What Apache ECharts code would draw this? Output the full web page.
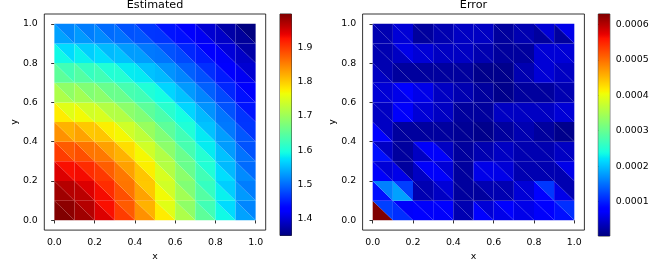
<!DOCTYPE html>
<html><head><meta charset="utf-8">
<script src="https://cdn.jsdelivr.net/npm/echarts@6/dist/echarts.min.js"></script>
<style>html,body{margin:0;padding:0;background:#fff}#c{width:664px;height:266px}</style>
</head><body><div id="c"></div>
<script>
// mesh nodes
const xNodes = [0, 0.1, 0.2, 0.3, 0.4, 0.5, 0.6, 0.7, 0.8, 0.9, 1.0];
const yNodes = [0, 0.1, 0.2, 0.3, 0.4, 0.5, 0.6, 0.7, 0.8, 0.9, 1.0];
// rows: y cell index 0 (bottom) .. 9 (top); columns: x cell index 0..9
// lower-left triangle of each cell
const estLower = [
  [1.998, 1.981, 1.947, 1.899, 1.841, 1.778, 1.713, 1.650, 1.590, 1.534],
  [1.981, 1.966, 1.933, 1.886, 1.829, 1.768, 1.705, 1.643, 1.584, 1.529],
  [1.947, 1.933, 1.902, 1.858, 1.805, 1.747, 1.687, 1.628, 1.572, 1.519],
  [1.899, 1.886, 1.858, 1.818, 1.770, 1.717, 1.661, 1.606, 1.554, 1.504],
  [1.841, 1.829, 1.805, 1.770, 1.727, 1.679, 1.629, 1.580, 1.531, 1.486],
  [1.778, 1.768, 1.747, 1.717, 1.679, 1.637, 1.593, 1.549, 1.505, 1.464],
  [1.713, 1.705, 1.687, 1.661, 1.629, 1.593, 1.555, 1.516, 1.477, 1.440],
  [1.650, 1.643, 1.628, 1.606, 1.580, 1.549, 1.516, 1.482, 1.448, 1.415],
  [1.590, 1.584, 1.572, 1.554, 1.531, 1.505, 1.477, 1.448, 1.419, 1.390],
  [1.534, 1.529, 1.519, 1.504, 1.486, 1.464, 1.440, 1.415, 1.390, 1.365]
];
// upper-right triangle of each cell
const estUpper = [
  [1.991, 1.969, 1.930, 1.878, 1.818, 1.754, 1.690, 1.628, 1.570, 1.516],
  [1.969, 1.947, 1.910, 1.860, 1.803, 1.741, 1.679, 1.619, 1.562, 1.510],
  [1.930, 1.910, 1.876, 1.830, 1.776, 1.718, 1.660, 1.603, 1.549, 1.499],
  [1.878, 1.860, 1.830, 1.788, 1.740, 1.687, 1.633, 1.581, 1.530, 1.483],
  [1.818, 1.803, 1.776, 1.740, 1.697, 1.650, 1.602, 1.554, 1.508, 1.465],
  [1.754, 1.741, 1.718, 1.687, 1.650, 1.609, 1.566, 1.524, 1.483, 1.443],
  [1.690, 1.679, 1.660, 1.633, 1.602, 1.566, 1.529, 1.492, 1.455, 1.420],
  [1.628, 1.619, 1.603, 1.581, 1.554, 1.524, 1.492, 1.460, 1.428, 1.396],
  [1.570, 1.562, 1.549, 1.530, 1.508, 1.483, 1.455, 1.428, 1.400, 1.372],
  [1.516, 1.510, 1.499, 1.483, 1.465, 1.443, 1.420, 1.396, 1.372, 1.349]
];
const errLower = [
  [0.000629, 0.000110, 0.000080, 0.000070, 0.000030, 0.000080, 0.000060, 0.000060, 0.000070, 0.000090],
  [0.000090, 0.000180, 0.000030, 0.000040, 0.000020, 0.000020, 0.000030, 0.000050, 0.000080, 0.000060],
  [0.000070, 0.000060, 0.000040, 0.000070, 0.000020, 0.000060, 0.000060, 0.000030, 0.000030, 0.000030],
  [0.000090, 0.000020, 0.000040, 0.000070, 0.000020, 0.000030, 0.000040, 0.000030, 0.000030, 0.000040],
  [0.000080, 0.000020, 0.000020, 0.000020, 0.000015, 0.000010, 0.000020, 0.000030, 0.000020, 0.000010],
  [0.000040, 0.000070, 0.000050, 0.000040, 0.000020, 0.000020, 0.000040, 0.000040, 0.000040, 0.000050],
  [0.000050, 0.000060, 0.000060, 0.000040, 0.000030, 0.000020, 0.000010, 0.000020, 0.000020, 0.000030],
  [0.000040, 0.000020, 0.000020, 0.000020, 0.000020, 0.000010, 0.000010, 0.000030, 0.000050, 0.000040],
  [0.000030, 0.000040, 0.000050, 0.000040, 0.000040, 0.000030, 0.000020, 0.000020, 0.000050, 0.000050],
  [0.000030, 0.000050, 0.000020, 0.000030, 0.000040, 0.000040, 0.000020, 0.000030, 0.000020, 0.000020]
];
const errUpper = [
  [0.000120, 0.000070, 0.000070, 0.000080, 0.000030, 0.000050, 0.000080, 0.000060, 0.000080, 0.000110],
  [0.000160, 0.000120, 0.000030, 0.000050, 0.000020, 0.000030, 0.000030, 0.000050, 0.000115, 0.000030],
  [0.000050, 0.000020, 0.000070, 0.000050, 0.000020, 0.000060, 0.000050, 0.000030, 0.000030, 0.000060],
  [0.000040, 0.000020, 0.000070, 0.000040, 0.000020, 0.000030, 0.000040, 0.000030, 0.000030, 0.000040],
  [0.000040, 0.000020, 0.000020, 0.000020, 0.000015, 0.000010, 0.000020, 0.000030, 0.000020, 0.000010],
  [0.000040, 0.000070, 0.000050, 0.000040, 0.000020, 0.000020, 0.000040, 0.000040, 0.000040, 0.000050],
  [0.000050, 0.000080, 0.000060, 0.000040, 0.000030, 0.000020, 0.000010, 0.000020, 0.000020, 0.000030],
  [0.000030, 0.000020, 0.000020, 0.000020, 0.000020, 0.000010, 0.000010, 0.000030, 0.000050, 0.000040],
  [0.000030, 0.000060, 0.000050, 0.000040, 0.000040, 0.000030, 0.000020, 0.000020, 0.000050, 0.000050],
  [0.000030, 0.000050, 0.000020, 0.000030, 0.000040, 0.000040, 0.000020, 0.000030, 0.000050, 0.000060]
];
const axisTicks = [0, 0.2, 0.4, 0.6, 0.8, 1.0];
const estBarTicks = [1.4, 1.5, 1.6, 1.7, 1.8, 1.9];
const errBarTicks = [0.0001, 0.0002, 0.0003, 0.0004, 0.0005, 0.0006];
const estRange = [1.3496, 1.9988];
const errRange = [0.0000033, 0.000629];
const titles = ['Estimated', 'Error'];

// matplotlib 'jet'
const JET = {
  r: [[0, 0], [0.35, 0], [0.66, 1], [0.89, 1], [1, 0.5]],
  g: [[0, 0], [0.125, 0], [0.375, 1], [0.64, 1], [0.91, 0], [1, 0]],
  b: [[0, 0.5], [0.11, 1], [0.34, 1], [0.65, 0], [1, 0]]
};
function seg(pts, t) {
  for (let k = 1; k < pts.length; k++) {
    if (t <= pts[k][0]) {
      const a = pts[k - 1], b = pts[k];
      return a[1] + (b[1] - a[1]) * (t - a[0]) / (b[0] - a[0]);
    }
  }
  return pts[pts.length - 1][1];
}
function jet(t) {
  t = Math.max(0, Math.min(1, t));
  const c = [seg(JET.r, t), seg(JET.g, t), seg(JET.b, t)].map(v => Math.round(v * 255));
  return 'rgb(' + c.join(',') + ')';
}
function jetStops() {
  const s = [];
  for (let k = 0; k <= 100; k++) s.push({offset: k / 100, color: jet(k / 100)});
  return s;
}

function triData(lower, upper) {
  const d = [];
  for (let j = 0; j < lower.length; j++)
    for (let i = 0; i < lower[j].length; i++) {
      d.push([i, j, 0, lower[j][i]]);
      d.push([i, j, 1, upper[j][i]]);
    }
  return d;
}
function triRender(range) {
  return function (params, api) {
    const i = api.value(0), j = api.value(1), k = api.value(2), v = api.value(3);
    const pts = k === 0
      ? [[xNodes[i], yNodes[j]], [xNodes[i + 1], yNodes[j]], [xNodes[i], yNodes[j + 1]]]
      : [[xNodes[i + 1], yNodes[j]], [xNodes[i + 1], yNodes[j + 1]], [xNodes[i], yNodes[j + 1]]];
    return {
      type: 'polygon',
      shape: {points: pts.map(p => api.coord(p))},
      style: {fill: jet((v - range[0]) / (range[1] - range[0]))}
    };
  };
}
function barRender(range) {
  return function (params, api) {
    const p0 = api.coord([0, range[1]]);
    const p1 = api.coord([1, range[0]]);
    return {
      type: 'rect',
      shape: {x: p0[0], y: p0[1], width: p1[0] - p0[0], height: p1[1] - p0[1]},
      style: {fill: new echarts.graphic.LinearGradient(0, 1, 0, 0, jetStops())}
    };
  };
}

const FONT = 'DejaVu Sans';
const TICK_FS = 9.4;
const frame = {show: true, borderColor: '#000', borderWidth: 0.8, backgroundColor: 'transparent'};
const grids = [
  Object.assign({left: 44.3, top: 14, width: 221.4, height: 221.3}, frame),
  Object.assign({left: 280, top: 14, width: 11.5, height: 221.5}, frame),
  Object.assign({left: 362.6, top: 14, width: 221.8, height: 221.3}, frame),
  Object.assign({left: 598.3, top: 14, width: 11.5, height: 222}, frame)
];
function mainX(gi) {
  return {
    type: 'value', gridIndex: gi, min: -0.05, max: 1.05,
    name: 'x', nameLocation: 'middle', nameGap: 19,
    nameTextStyle: {fontFamily: FONT, fontSize: TICK_FS, color: '#000'},
    axisLine: {show: false}, splitLine: {show: false},
    axisTick: {show: true, length: 3.2, lineStyle: {color: '#000', width: 0.8}, customValues: axisTicks},
    axisLabel: {show: true, margin: 8, fontFamily: FONT, fontSize: TICK_FS, color: '#000',
      customValues: axisTicks, formatter: v => v.toFixed(1)}
  };
}
function mainY(gi) {
  return {
    type: 'value', gridIndex: gi, min: -0.05, max: 1.05,
    name: 'y', nameLocation: 'middle', nameGap: 24,
    nameTextStyle: {fontFamily: FONT, fontSize: TICK_FS, color: '#000'},
    axisLine: {show: false}, splitLine: {show: false},
    axisTick: {show: true, length: 3.2, lineStyle: {color: '#000', width: 0.8}, customValues: axisTicks},
    axisLabel: {show: true, margin: 6.5, fontFamily: FONT, fontSize: TICK_FS, color: '#000',
      customValues: axisTicks, formatter: v => v.toFixed(1)}
  };
}
function barX(gi) {
  return {type: 'value', gridIndex: gi, min: 0, max: 1, show: false};
}
function barY(gi, range, ticks, dec) {
  return {
    type: 'value', gridIndex: gi, min: range[0], max: range[1], position: 'right',
    axisLine: {show: false}, splitLine: {show: false},
    axisTick: {show: true, length: 3.2, lineStyle: {color: '#000', width: 0.8}, customValues: ticks},
    axisLabel: {show: true, margin: 6, fontFamily: FONT, fontSize: TICK_FS, color: '#000',
      customValues: ticks, formatter: v => v.toFixed(dec)}
  };
}

const chart = echarts.init(document.getElementById('c'), null, {renderer: 'canvas'});
chart.setOption({
  animation: false,
  backgroundColor: '#fff',
  grid: grids,
  xAxis: [mainX(0), barX(1), mainX(2), barX(3)],
  yAxis: [mainY(0), barY(1, estRange, estBarTicks, 1), mainY(2), barY(3, errRange, errBarTicks, 4)],
  graphic: [
    {type: 'text', x: 155, y: 5.5, style: {text: titles[0], fontFamily: FONT, fontSize: 11.2, fill: '#000', textAlign: 'center', textVerticalAlign: 'middle'}},
    {type: 'text', x: 473.5, y: 5.5, style: {text: titles[1], fontFamily: FONT, fontSize: 11.2, fill: '#000', textAlign: 'center', textVerticalAlign: 'middle'}}
  ],
  series: [
    {type: 'custom', xAxisIndex: 0, yAxisIndex: 0, data: triData(estLower, estUpper), renderItem: triRender(estRange)},
    {type: 'custom', xAxisIndex: 1, yAxisIndex: 1, data: [[0]], renderItem: barRender(estRange)},
    {type: 'custom', xAxisIndex: 2, yAxisIndex: 2, data: triData(errLower, errUpper), renderItem: triRender(errRange)},
    {type: 'custom', xAxisIndex: 3, yAxisIndex: 3, data: [[0]], renderItem: barRender(errRange)}
  ]
});
</script>
</body></html>
